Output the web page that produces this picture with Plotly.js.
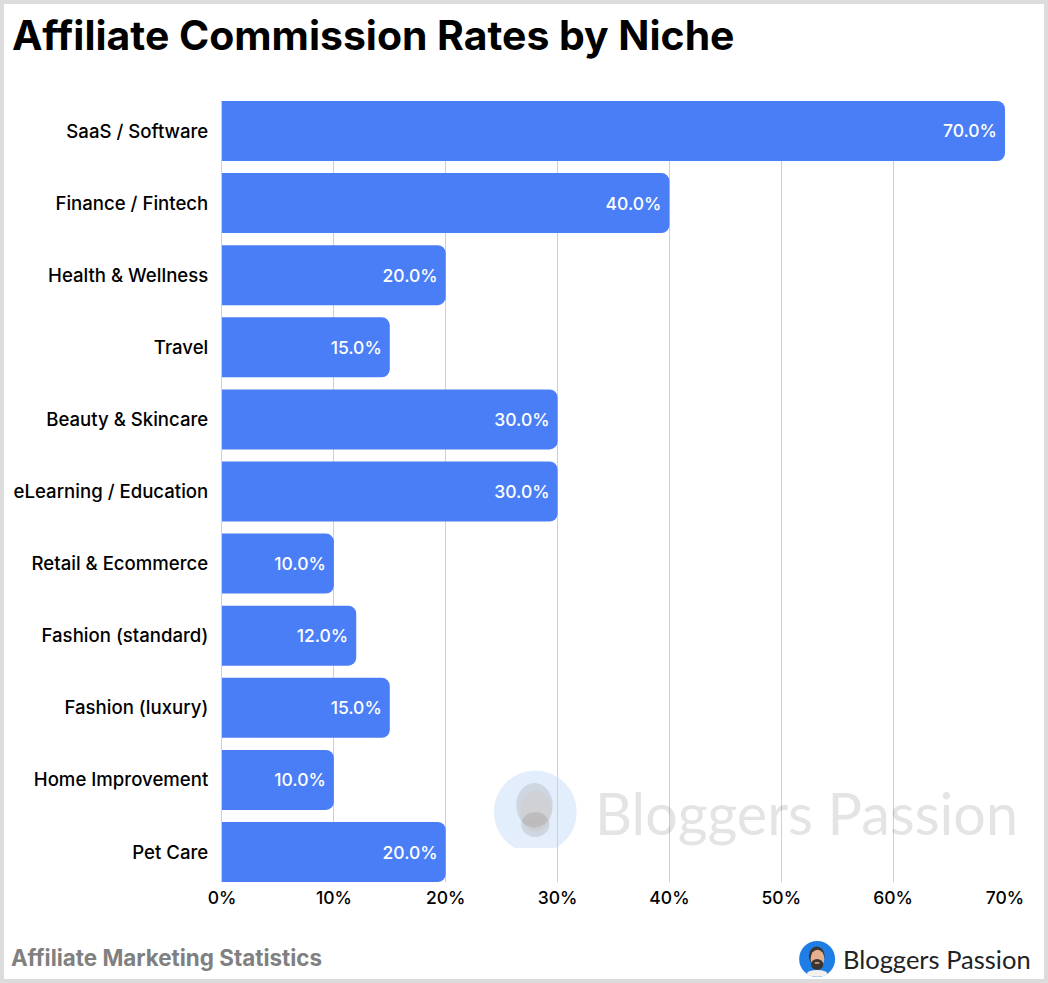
<!DOCTYPE html>
<html><head><meta charset="utf-8">
<script src="https://cdn.plot.ly/plotly-3.0.1.min.js"></script>
<style>html,body{margin:0;padding:0;background:#dcdcdc;width:1048px;height:983px;overflow:hidden}
#chart{position:absolute;left:4px;top:4px;width:1040px;height:975px;background:#fff}</style>
</head><body><div id="chart"></div>
<script>
const categories=["SaaS / Software","Finance / Fintech","Health & Wellness","Travel","Beauty & Skincare","eLearning / Education","Retail & Ecommerce","Fashion (standard)","Fashion (luxury)","Home Improvement","Pet Care"];
const rates=[70,40,20,15,30,30,10,12,15,10,20];
const tickValues=[0,10,20,30,40,50,60,70];
const tickLabels=["0%","10%","20%","30%","40%","50%","60%","70%"];
const titleText="Affiliate Commission Rates by Niche";
const footerText="Affiliate Marketing Statistics";
const brandText="Bloggers Passion";

const LF="Inter, sans-serif";
const L=221.5,R=1005,T=101,B=882;
const px=x=>(x-L)/(R-L), py=y=>(B-y)/(B-T);
function ell(cx,cy,rx,ry,fill,op){return {type:"circle",xref:"paper",yref:"paper",x0:px(cx-rx),x1:px(cx+rx),y0:py(cy+ry),y1:py(cy-ry),fillcolor:fill,opacity:op==null?1:op,line:{width:0},layer:"below"};}
function avatar(cx,cy,s,bg,op){
  return [ell(cx,cy,s,s,bg,1),
    ell(cx,cy+s*0.80,s*0.56,s*0.19,"#f4f1ee",op),
    ell(cx-s*0.02,cy-s*0.16,s*0.44,s*0.54,"#3b3532",op),
    ell(cx+s*0.02,cy-s*0.02,s*0.38,s*0.50,"#e6b08e",op),
    ell(cx,cy+s*0.30,s*0.34,s*0.30,"#3b3532",op),
    ell(cx,cy+s*0.22,s*0.15,s*0.05,"#d9a283",op)];
}
const coverRect={type:"rect",xref:"paper",yref:"paper",x0:px(490),x1:px(580),y0:py(856),y1:py(848),fillcolor:"#fff",line:{width:0},layer:"below"};
const shapes=[...avatar(535,812,41.5,"#e3eefc",0.13),coverRect,...avatar(817,959,18,"#1f7ee6",1)];

Plotly.newPlot("chart",[{
  type:"bar",orientation:"h",y:categories,x:rates,
  marker:{color:"#4a7ef6",line:{width:0}},
  texttemplate:"%{x:.1f}%",textposition:"inside",insidetextanchor:"end",textangle:0,
  insidetextfont:{family:LF,size:17.5,color:"#fff",weight:500},
  hoverinfo:"skip",cliponaxis:false
}],{
  width:1040,height:975,
  margin:{l:217.5,r:39,t:97,b:97,pad:0},
  paper_bgcolor:"#fff",plot_bgcolor:"#fff",
  bargap:0.168,barcornerradius:8,showlegend:false,
  title:{text:titleText,x:8/1040,xanchor:"left",y:1-(32/975),yanchor:"middle",font:{family:"Inter, sans-serif",size:40.9,weight:700,color:"#000"}},
  xaxis:{range:[0,70],tickvals:tickValues,ticktext:tickLabels,showgrid:true,gridcolor:"#cfcfcf",gridwidth:1,zeroline:false,showline:false,ticks:"",ticklabelstandoff:3,tickfont:{family:LF,size:17.5,color:"#000",weight:500},fixedrange:true},
  yaxis:{type:"category",categoryorder:"array",categoryarray:categories,range:[10.416,-0.416],showgrid:false,zeroline:false,showline:true,linecolor:"#cfcfcf",linewidth:1,ticks:"",ticklabelstandoff:9,tickfont:{family:LF,size:18.6,color:"#000",weight:500},fixedrange:true},
  shapes:shapes,
  annotations:[
    {xref:"paper",yref:"paper",x:px(593),y:py(812),xanchor:"left",yanchor:"middle",showarrow:false,text:brandText,font:{family:"Lato, sans-serif",size:57.5,color:"rgba(130,130,130,0.22)"}},
    {xref:"paper",yref:"paper",x:px(8.5),y:py(957),xanchor:"left",yanchor:"middle",showarrow:false,text:footerText,font:{family:"Inter, sans-serif",size:22.4,weight:700,color:"#808080"}},
    {xref:"paper",yref:"paper",x:px(841),y:py(959),xanchor:"left",yanchor:"middle",showarrow:false,text:brandText,font:{family:"Lato, sans-serif",size:25.5,color:"#222"}}
  ]
},{displayModeBar:false,staticPlot:true});
</script></body></html>
